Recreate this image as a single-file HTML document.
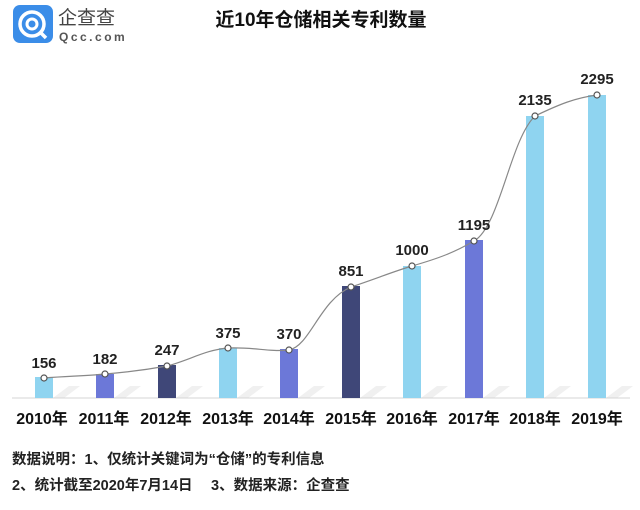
<!DOCTYPE html>
<html><head><meta charset="utf-8"><style>
body{margin:0;background:#fff;width:640px;height:505px;overflow:hidden;font-family:"Liberation Sans","Noto Sans CJK SC",sans-serif}
</style></head><body>
<svg width="640" height="505" xmlns="http://www.w3.org/2000/svg" font-family="Liberation Sans, Noto Sans CJK SC, sans-serif">
<rect x="13" y="5" width="40" height="38" rx="7" fill="#3b8de8"/>
<circle cx="32" cy="24" r="12" fill="none" stroke="#fff" stroke-width="3.5"/>
<circle cx="32" cy="24" r="5" fill="none" stroke="#fff" stroke-width="3"/>
<line x1="40" y1="32" x2="46" y2="38" stroke="#fff" stroke-width="3.5"/>
<text x="58" y="24" font-size="19" fill="#444">企查查</text>
<text x="59" y="41" font-size="12" fill="#555" letter-spacing="2.5" font-weight="bold">Qcc.com</text>
<text x="321" y="26" font-size="19" font-weight="bold" text-anchor="middle" fill="#111">近10年仓储相关专利数量</text>
<g fill="#f0f0f0">
<polygon points="53,398 64,398 80,386 69,386"/><polygon points="114,398 125,398 141,386 130,386"/><polygon points="176,398 187,398 203,386 192,386"/><polygon points="237,398 248,398 264,386 253,386"/><polygon points="298,398 309,398 325,386 314,386"/><polygon points="360,398 371,398 387,386 376,386"/><polygon points="421,398 432,398 448,386 437,386"/><polygon points="483,398 494,398 510,386 499,386"/><polygon points="544,398 555,398 571,386 560,386"/><polygon points="606,398 617,398 633,386 622,386"/>
</g>
<line x1="12" y1="398" x2="630" y2="398" stroke="#d4d4d4" stroke-width="1"/>
<rect x="35" y="377" width="18" height="21" fill="#8fd4f0"/>
<rect x="96" y="374" width="18" height="24" fill="#6c78d8"/>
<rect x="158" y="365" width="18" height="33" fill="#3f4778"/>
<rect x="219" y="348" width="18" height="50" fill="#8fd4f0"/>
<rect x="280" y="349" width="18" height="49" fill="#6c78d8"/>
<rect x="342" y="286" width="18" height="112" fill="#3f4778"/>
<rect x="403" y="266" width="18" height="132" fill="#8fd4f0"/>
<rect x="465" y="240" width="18" height="158" fill="#6c78d8"/>
<rect x="526" y="116" width="18" height="282" fill="#8fd4f0"/>
<rect x="588" y="95" width="18" height="303" fill="#8fd4f0"/>
<path d="M44,378 C70,376 85,376 105,374 C130,372 145,370 167,366 C190,360 205,350 228,348 C255,347 268,352 289,350 C310,346 320,300 351,287 C378,278 392,272 412,266 C440,258 455,252 474,241 C500,226 510,140 535,116 C560,104 575,98 597,95" fill="none" stroke="#888" stroke-width="1.2"/>
<g fill="#fff" stroke="#555" stroke-width="1.2">
<circle cx="44" cy="378" r="3"/><circle cx="105" cy="374" r="3"/><circle cx="167" cy="366" r="3"/><circle cx="228" cy="348" r="3"/><circle cx="289" cy="350" r="3"/><circle cx="351" cy="287" r="3"/><circle cx="412" cy="266" r="3"/><circle cx="474" cy="241" r="3"/><circle cx="535" cy="116" r="3"/><circle cx="597" cy="95" r="3"/>
</g>
<g font-size="15" font-weight="bold" fill="#222" text-anchor="middle">
<text x="44" y="368">156</text><text x="105" y="364">182</text><text x="167" y="355">247</text><text x="228" y="338">375</text><text x="289" y="339">370</text><text x="351" y="276">851</text><text x="412" y="255">1000</text><text x="474" y="230">1195</text><text x="535" y="105">2135</text><text x="597" y="84">2295</text>
</g>
<g font-size="16" font-weight="bold" fill="#111" text-anchor="middle">
<text x="42" y="424">2010年</text><text x="104" y="424">2011年</text><text x="166" y="424">2012年</text><text x="228" y="424">2013年</text><text x="289" y="424">2014年</text><text x="351" y="424">2015年</text><text x="412" y="424">2016年</text><text x="474" y="424">2017年</text><text x="535" y="424">2018年</text><text x="597" y="424">2019年</text>
</g>
<text x="12" y="464" font-size="14.5" font-weight="bold" fill="#222">数据说明：1、仅统计关键词为“仓储”的专利信息</text>
<text x="12" y="490" font-size="14.5" font-weight="bold" fill="#222">2、统计截至2020年7月14日　 3、数据来源：企查查</text>
</svg>
</body></html>
